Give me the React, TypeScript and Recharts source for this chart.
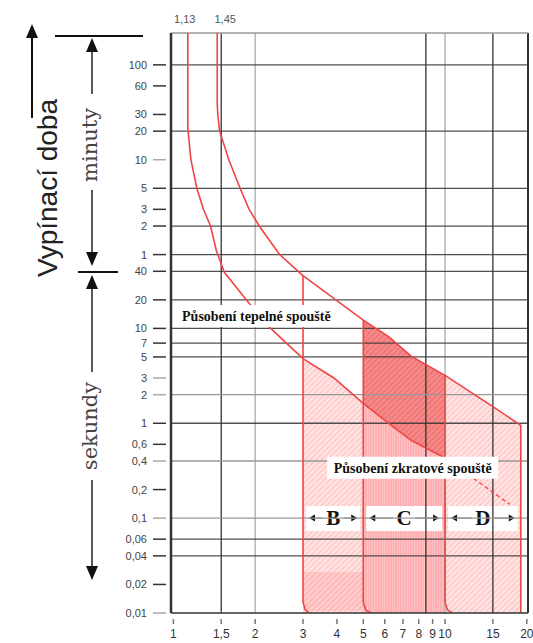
import React from 'react'
import {
  ComposedChart,
  Line,
  Area,
  XAxis,
  YAxis,
  ReferenceLine,
  ReferenceArea,
  ReferenceDot,
} from 'recharts'

// násobek jmenovitého proudu In (osa x), vypínací doba v sekundách (osa y)
const xTicks = [1, 1.5, 2, 3, 4, 5, 6, 7, 8, 9, 10, 15, 20]
const yTicks = [
  0.01, 0.02, 0.04, 0.06, 0.1, 0.2, 0.4, 0.6, 1, 2, 3, 5, 7, 10, 20, 40,
  60, 120, 180, 300, 600, 1200, 1800, 3600, 6000,
]
const lightTicks = [600, 3, 2, 0.4, 0.1, 0.01]
const gridDark = [6000, 1200, 300, 120, 60, 40, 20, 10, 7, 5, 1, 0.06, 0.04]
const gridLight = [2, 0.4, 0.1]
const vGridDark = [1.5, 8.5, 15]
const vGridLight = [2, 10]

// dolní mez (1,13 In)
const lowerCurve = [
  { x: 1.13, t: 13000 },
  { x: 1.13, t: 1300 },
  { x: 1.16, t: 600 },
  { x: 1.22, t: 300 },
  { x: 1.29, t: 180 },
  { x: 1.37, t: 120 },
  { x: 1.44, t: 66 },
  { x: 1.54, t: 39 },
  { x: 1.87, t: 19.5 },
  { x: 2.21, t: 10.9 },
  { x: 3, t: 4.8 },
  { x: 3.9, t: 3 },
  { x: 5, t: 1.62 },
  { x: 6.2, t: 1 },
  { x: 7.5, t: 0.66 },
  { x: 10, t: 0.43 },
]
const lowerDashed = [
  { x: 10, t: 0.43 },
  { x: 17.3, t: 0.14 },
]

// horní mez (1,45 In)
const upperCurve = [
  { x: 1.45, t: 13000 },
  { x: 1.45, t: 2300 },
  { x: 1.46, t: 1700 },
  { x: 1.48, t: 1200 },
  { x: 1.6, t: 600 },
  { x: 1.76, t: 300 },
  { x: 1.9, t: 180 },
  { x: 2.07, t: 120 },
  { x: 2.46, t: 60 },
  { x: 3, t: 36 },
  { x: 5, t: 12.2 },
  { x: 6.2, t: 8.2 },
  { x: 7.5, t: 5.1 },
  { x: 10, t: 3.2 },
  { x: 15, t: 1.5 },
  { x: 19, t: 0.95 },
  { x: 19, t: 0.01 },
]

const edgeB = [
  { x: 3, t: 36 },
  { x: 3, t: 0.013 },
  { x: 3.06, t: 0.0108 },
  { x: 3.15, t: 0.0101 },
]
const edgeC = [
  { x: 5, t: 12.2 },
  { x: 5, t: 0.013 },
  { x: 5.1, t: 0.0108 },
  { x: 5.3, t: 0.0101 },
]
const edgeD = [
  { x: 10, t: 3.2 },
  { x: 10, t: 0.013 },
  { x: 10.2, t: 0.0108 },
  { x: 10.6, t: 0.0101 },
]

// vyšrafované oblasti [od, do]
const bandB = [
  { x: 3, r: [0.01, 4.8] },
  { x: 3.9, r: [0.01, 3] },
  { x: 5, r: [0.01, 1.62] },
]
const bandBLow = [
  { x: 3, r: [0.0105, 0.027] },
  { x: 5, r: [0.0105, 0.027] },
]
const bandCTop = [
  { x: 5, r: [1.62, 12.2] },
  { x: 6.2, r: [1, 8.2] },
  { x: 7.5, r: [0.66, 5.1] },
  { x: 10, r: [0.43, 3.2] },
]
const bandCLow = [
  { x: 5, r: [0.01, 1.62] },
  { x: 6.2, r: [0.01, 1] },
  { x: 7.5, r: [0.01, 0.66] },
  { x: 10, r: [0.01, 0.43] },
]
const bandD = [
  { x: 10, r: [0.01, 3.2] },
  { x: 15, r: [0.01, 1.5] },
  { x: 19, r: [0.01, 0.95] },
]

const RED = '#f04444'
const SANS = 'Liberation Sans, Arial, sans-serif'
const SERIF = 'Liberation Serif, Times New Roman, serif'

const comma = (v: number) => String(v).replace('.', ',')
const yLabel = (v: number) => (v >= 60 ? comma(v / 60) : comma(v))

function YTick(props: any) {
  const { y, payload } = props
  const light = lightTicks.includes(payload.value)
  return (
    <g>
      <text x={147} y={y + 4} textAnchor="end" fontSize={11} fill="#444" fontFamily={SANS}>
        {yLabel(payload.value)}
      </text>
      <line x1={153} x2={166} y1={y} y2={y} stroke={light ? '#aaa' : '#333'} strokeWidth={1.5} />
    </g>
  )
}

function XTick(props: any) {
  const { x, payload } = props
  return (
    <g>
      <line x1={x} x2={x} y1={619} y2={624} stroke="#777" strokeWidth={1.5} />
      <text x={x} y={638} textAnchor="middle" fontSize={12} fill="#333" fontFamily={SANS}>
        {comma(payload.value)}
      </text>
    </g>
  )
}

function BandLabel(props: any) {
  const { x, y, width, height, text } = props
  const cy = y + height / 2
  const cx = x + width / 2
  const left = x + 3
  const right = x + width - 3
  return (
    <g>
      <rect x={left} y={cy - 12} width={right - left} height={25} fill="#fff" />
      <line x1={left + 6} x2={cx - 11} y1={cy} y2={cy} stroke="#666" />
      <line x1={cx + 11} x2={right - 6} y1={cy} y2={cy} stroke="#666" />
      <polygon points={`${left + 3},${cy} ${left + 9},${cy - 3.5} ${left + 9},${cy + 3.5}`} fill="#111" />
      <polygon points={`${right - 3},${cy} ${right - 9},${cy - 3.5} ${right - 9},${cy + 3.5}`} fill="#111" />
      <text x={cx} y={cy + 7} textAnchor="middle" fontSize={21} fontWeight="bold" fontFamily={SERIF} fill="#111">
        {text}
      </text>
    </g>
  )
}

function TextBox(props: any) {
  const { cx, cy, text, w } = props
  return (
    <g>
      <rect x={cx - w / 2} y={cy - 11} width={w} height={22} fill="#fff" />
      <text x={cx} y={cy + 5} textAnchor="middle" fontSize={14} fontWeight="bold" fontFamily={SERIF} fill="#111">
        {text}
      </text>
    </g>
  )
}

function TopLabel(props: any) {
  const { cx, text, dx } = props
  return (
    <text x={cx + dx} y={23} textAnchor="middle" fontSize={11} fill="#555" fontFamily={SANS}>
      {text}
    </text>
  )
}

function SideNotes() {
  return (
    <svg width={533} height={643} style={{ position: 'absolute', left: 0, top: 0, pointerEvents: 'none' }}>
      {/* Vypínací doba */}
      <line x1={32} y1={118} x2={32} y2={36} stroke="#111" strokeWidth={2} />
      <polygon points="32,24 26,38 38,38" fill="#111" />
      <text transform="translate(57,188) rotate(-90)" textAnchor="middle" fontSize={28} fill="#222" fontFamily={SANS}>
        Vypínací doba
      </text>
      <line x1={55} x2={143} y1={36} y2={36} stroke="#111" strokeWidth={2} />
      <line x1={78} x2={118} y1={272} y2={272} stroke="#111" strokeWidth={2} />

      {/* minuty */}
      <polygon points="92,38 86,52 98,52" fill="#111" />
      <line x1={92} x2={92} y1={50} y2={94} stroke="#222" strokeWidth={1.5} />
      <text transform="translate(97,145) rotate(-90)" textAnchor="middle" fontSize={21} fill="#444" fontFamily="DejaVu Serif, serif">
        minuty
      </text>
      <line x1={92} x2={92} y1={190} y2={253} stroke="#222" strokeWidth={1.5} />
      <polygon points="92,266 86,252 98,252" fill="#111" />

      {/* sekundy */}
      <polygon points="92,275 86,289 98,289" fill="#111" />
      <line x1={92} x2={92} y1={288} y2={372} stroke="#222" strokeWidth={1.5} />
      <text transform="translate(97,426) rotate(-90)" textAnchor="middle" fontSize={21} fill="#444" fontFamily="DejaVu Serif, serif">
        sekundy
      </text>
      <line x1={92} x2={92} y1={480} y2={567} stroke="#222" strokeWidth={1.5} />
      <polygon points="92,580 86,566 98,566" fill="#111" />
    </svg>
  )
}

export default function App() {
  return (
    <div style={{ position: 'absolute', left: 0, top: 0, width: 533, height: 643, background: '#fff' }}>
      <ComposedChart width={533} height={643} margin={{ top: 33, right: 5, bottom: 0, left: 0 }}>
        <defs>
          <pattern id="hatchLight" width="4" height="4" patternUnits="userSpaceOnUse" patternTransform="rotate(45)">
            <rect width="4" height="4" fill="#ffe2e2" />
            <line x1="0" y1="0" x2="0" y2="4" stroke="#ffb0b0" strokeWidth="1.4" />
          </pattern>
          <pattern id="hatchMid" width="4" height="4" patternUnits="userSpaceOnUse" patternTransform="rotate(45)">
            <rect width="4" height="4" fill="#ffcccc" />
            <line x1="0" y1="0" x2="0" y2="4" stroke="#ff9c9c" strokeWidth="1.4" />
          </pattern>
          <pattern id="hatchDark" width="4" height="4" patternUnits="userSpaceOnUse" patternTransform="rotate(45)">
            <rect width="4" height="4" fill="#f58888" />
            <line x1="0" y1="0" x2="0" y2="4" stroke="#e96060" strokeWidth="1.4" />
          </pattern>
          <pattern id="stripes" width="5" height="4" patternUnits="userSpaceOnUse">
            <rect width="5" height="4" fill="#ffc2c4" />
            <line x1="1" y1="0" x2="1" y2="4" stroke="#ff9ca0" strokeWidth="1" />
            <line x1="3.5" y1="0" x2="3.5" y2="4" stroke="#ffacae" strokeWidth="1" />
          </pattern>
        </defs>

        <XAxis
          type="number"
          dataKey="x"
          scale="log"
          domain={[0.98, 20.2]}
          ticks={xTicks}
          interval={0}
          allowDataOverflow
          height={30}
          tick={<XTick />}
          tickLine={false}
          axisLine={{ stroke: '#333', strokeWidth: 1.5 }}
        />
        <YAxis
          type="number"
          scale="log"
          domain={[0.01, 13000]}
          ticks={yTicks}
          interval={0}
          allowDataOverflow
          width={171}
          tick={<YTick />}
          tickLine={false}
          axisLine={{ stroke: '#333', strokeWidth: 2.5 }}
        />

        {vGridDark.map((v) => (
          <ReferenceLine key={'vd' + v} x={v} stroke="#333" strokeWidth={1.3} />
        ))}
        {vGridLight.map((v) => (
          <ReferenceLine key={'vl' + v} x={v} stroke="#aaa" strokeWidth={1.3} />
        ))}

        <Area data={bandB} dataKey="r" type="linear" stroke="none" fill="url(#hatchLight)" fillOpacity={1} isAnimationActive={false} />
        <Area data={bandBLow} dataKey="r" type="linear" stroke="none" fill="url(#hatchMid)" fillOpacity={1} isAnimationActive={false} />
        <Area data={bandCLow} dataKey="r" type="linear" stroke="none" fill="url(#stripes)" fillOpacity={1} isAnimationActive={false} />
        <Area data={bandCTop} dataKey="r" type="linear" stroke="none" fill="url(#hatchDark)" fillOpacity={1} isAnimationActive={false} />
        <Area data={bandD} dataKey="r" type="linear" stroke="none" fill="url(#hatchLight)" fillOpacity={1} isAnimationActive={false} />

        {gridDark.map((v) => (
          <ReferenceLine key={'hd' + v} y={v} stroke="#333" strokeWidth={1.3} strokeOpacity={0.85} />
        ))}
        {gridLight.map((v) => (
          <ReferenceLine key={'hl' + v} y={v} stroke="#999" strokeWidth={1.3} />
        ))}
        <ReferenceLine x={20.2} stroke="#333" strokeWidth={2} />
        <ReferenceLine y={13000} stroke="#999" strokeWidth={1.5} />

        <Line data={lowerCurve} dataKey="t" type="linear" stroke={RED} strokeWidth={1.6} dot={false} isAnimationActive={false} />
        <Line data={lowerDashed} dataKey="t" type="linear" stroke={RED} strokeWidth={1.4} strokeDasharray="4 3" dot={false} isAnimationActive={false} />
        <Line data={upperCurve} dataKey="t" type="linear" stroke={RED} strokeWidth={1.6} dot={false} isAnimationActive={false} />
        <Line data={edgeB} dataKey="t" type="linear" stroke={RED} strokeWidth={1.6} dot={false} isAnimationActive={false} />
        <Line data={edgeC} dataKey="t" type="linear" stroke={RED} strokeWidth={1.6} dot={false} isAnimationActive={false} />
        <Line data={edgeD} dataKey="t" type="linear" stroke={RED} strokeWidth={1.6} dot={false} isAnimationActive={false} />

        <ReferenceDot x={2.02} y={13.5} r={0} ifOverflow="visible" shape={(p: any) => <TextBox {...p} w={160} text="Působení tepelné spouště" />} />
        <ReferenceDot x={7.6} y={0.34} r={0} ifOverflow="visible" shape={(p: any) => <TextBox {...p} w={171} text="Působení zkratové spouště" />} />
        <ReferenceArea x1={3} x2={5} y1={0.085} y2={0.118} ifOverflow="visible" shape={(p: any) => <BandLabel {...p} text="B" />} />
        <ReferenceArea x1={5} x2={10} y1={0.085} y2={0.118} ifOverflow="visible" shape={(p: any) => <BandLabel {...p} text="C" />} />
        <ReferenceArea x1={10} x2={19} y1={0.085} y2={0.118} ifOverflow="visible" shape={(p: any) => <BandLabel {...p} text="D" />} />
        <ReferenceDot x={1.13} y={13000} r={0} ifOverflow="visible" shape={(p: any) => <TopLabel {...p} dx={-3} text="1,13" />} />
        <ReferenceDot x={1.45} y={13000} r={0} ifOverflow="visible" shape={(p: any) => <TopLabel {...p} dx={8} text="1,45" />} />
      </ComposedChart>
      <SideNotes />
    </div>
  )
}
